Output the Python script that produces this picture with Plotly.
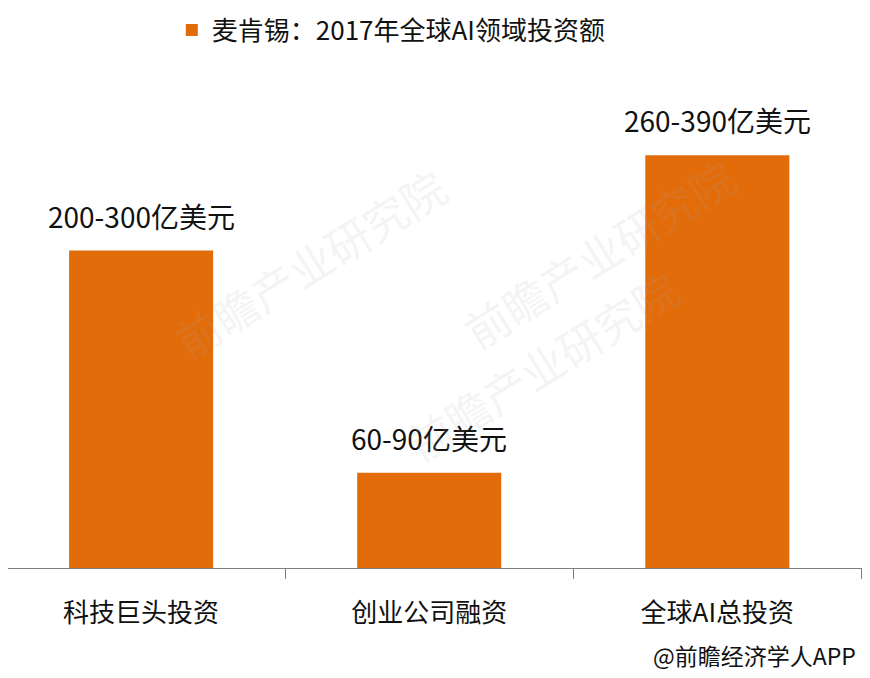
import plotly.graph_objects as go

# 麦肯锡：2017年全球AI领域投资额（取区间中值作柱高）
categories = ["科技巨头投资", "创业公司融资", "全球AI总投资"]
values = [250, 75, 325]
labels = ["200-300亿美元", "60-90亿美元", "260-390亿美元"]
series_name = "麦肯锡：2017年全球AI领域投资额"
source = "@前瞻经济学人APP"

FONT = "Noto Sans CJK SC, Microsoft YaHei, sans-serif"
ORANGE = "#E36C0A"

fig = go.Figure()
fig.add_trace(go.Bar(
    x=categories,
    y=values,
    name=series_name,
    width=0.5,
    marker=dict(color=ORANGE, line=dict(width=0)),
    showlegend=True,
))

# 柱顶数值标签
for cat, val, lab in zip(categories, values, labels):
    fig.add_annotation(
        x=cat, y=val, xref="x", yref="y",
        text=lab, showarrow=False, yanchor="bottom", yshift=13,
        font=dict(family=FONT, size=28, color="#111111"),
    )

# 水印（淡灰色）
for x, y in [(0.35, 0.82), (0.62, 0.18), (0.86, 0.62)]:
    fig.add_annotation(
        x=x, y=y, xref="paper", yref="paper",
        text="前瞻产业研究院", showarrow=False, textangle=-32,
        font=dict(family=FONT, size=44, color="rgba(170,170,170,0.15)"),
    )

fig.add_annotation(
    x=0.986, y=-0.171, xref="paper", yref="paper",
    xanchor="right", yanchor="middle",
    text=source, showarrow=False,
    font=dict(family=FONT, size=23, color="#111111"),
)

# 页面body默认有8px边距，画布尺寸相应缩小
fig.update_layout(
    width=862, height=670,
    margin=dict(l=0, r=0, t=52, b=110, autoexpand=False),
    paper_bgcolor="white",
    plot_bgcolor="white",
    font=dict(family=FONT, color="#111111"),
    bargap=0.5,
    showlegend=True,
    legend=dict(
        orientation="h",
        x=0.19, xanchor="left",
        y=0.967, yref="container", yanchor="middle",
        font=dict(family=FONT, size=26, color="#111111"),
        itemwidth=30,
    ),
    xaxis=dict(
        range=[-0.462, 2.53],
        automargin=False,
        showline=True, linecolor="#7f7f7f", linewidth=1,
        ticks="outside", tickson="boundaries", ticklen=10, tickcolor="#7f7f7f",
        tickfont=dict(family=FONT, size=26, color="#111111"),
        ticklabelstandoff=22,
        showgrid=False,
    ),
    yaxis=dict(
        range=[0, 400],
        automargin=False,
        visible=False,
        showgrid=False,
    ),
)

fig.write_html("out.html")
